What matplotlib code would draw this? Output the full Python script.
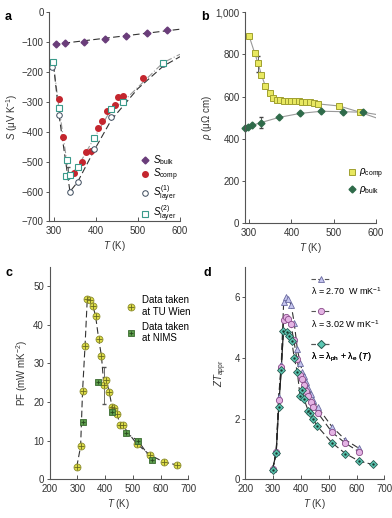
import matplotlib
matplotlib.use("Agg")
import matplotlib.pyplot as plt
from matplotlib.lines import Line2D

plt.rcParams['font.family'] = ['Liberation Sans', 'DejaVu Sans']
plt.rcParams['mathtext.fontset'] = 'custom'
plt.rcParams['mathtext.rm'] = 'Liberation Sans'
plt.rcParams['mathtext.it'] = 'Liberation Sans:italic'
plt.rcParams['mathtext.bf'] = 'Liberation Sans:bold'
plt.rcParams['font.size'] = 7

# ---------------- Panel a data ----------------
bulk_T = [307, 327, 372, 423, 472, 521, 570]
bulk_S = [-105, -102, -98, -89, -79, -70, -60]
bulk_fit_T = [300, 600]
bulk_fit_S = [-107, -56]

comp_T = [314, 322, 348, 367, 377, 388, 406, 416, 427, 446, 454, 465, 513]
comp_S = [-290, -416, -538, -501, -466, -463, -386, -363, -330, -311, -282, -281, -220]

layer1_T = [297, 313, 339, 357, 397, 437, 560]
layer1_S = [-181, -343, -600, -568, -457, -349, -172]
layer1_fit_T = [300, 313, 339, 357, 397, 437, 500, 560, 600]
layer1_fit_S = [-176, -343, -600, -568, -460, -360, -255, -180, -148]

layer2_T = [299, 313, 329, 331, 339, 357, 397, 437, 464, 560]
layer2_S = [-165, -319, -548, -494, -545, -518, -419, -324, -300, -168]
layer2_fit_T = [299, 313, 331, 336, 357, 397, 437, 464, 560, 600]
layer2_fit_S = [-165, -319, -494, -550, -518, -419, -324, -300, -168, -140]

# ---------------- Panel b data ----------------
rcomp_T = [300, 313, 321, 329, 338, 348, 357, 366, 374, 382, 391, 399, 408, 417, 426, 435, 444, 453, 462, 513, 561]
rcomp_R = [886, 806, 758, 703, 651, 616, 595, 586, 582, 580, 580, 580, 579, 578, 577, 575, 573, 570, 566, 556, 527]
rcomp_fit_T = rcomp_T + [600]
rcomp_fit_R = rcomp_R + [500]
rcomp_err_T = [321]
rcomp_err_R = [755]
rcomp_err = [37]

rbulk_T = [290, 296, 307, 327, 371, 421, 471, 521, 570]
rbulk_R = [453, 456, 464, 477, 502, 521, 531, 529, 526]
rbulk_fit_T = rbulk_T + [600]
rbulk_fit_R = rbulk_R + [516]
rbulk_err_T = [327]
rbulk_err_R = [476]
rbulk_err = [26]

# ---------------- Panel c data ----------------
tu_T = [298, 312, 319, 328, 336, 347, 356, 366, 377, 387, 396, 404, 415, 425, 433, 444, 454, 463, 514, 562, 611, 660]
tu_PF = [3.2, 8.5, 22.8, 34.6, 46.7, 46.5, 45.0, 42.3, 36.4, 32.0, 24.3, 25.7, 22.7, 18.8, 18.4, 16.9, 14.0, 14.0, 9.2, 6.3, 4.5, 3.7]
tu_err_T = [396]
tu_err_PF = [24.3]
tu_err_lo = [4.7]
tu_err_hi = [4.8]

nims_T = [322, 373, 425, 474, 520, 569]
nims_PF = [14.9, 25.1, 17.5, 12.1, 9.9, 4.9]

# ---------------- Panel d data ----------------
tri_T = [298, 311, 320, 329, 338, 346, 354, 365, 376, 387, 397, 405, 411, 420, 427, 436, 445, 460, 512, 560, 609]
tri_Z = [0.33, 0.90, 2.72, 3.78, 5.85, 6.00, 5.95, 5.75, 5.15, 4.30, 3.85, 3.55, 3.40, 3.20, 3.00, 2.80, 2.60, 2.38, 1.73, 1.30, 1.02]
circ_T = [298, 311, 320, 329, 338, 346, 355, 364, 374, 386, 397, 405, 411, 420, 427, 436, 445, 460, 512, 560, 609]
circ_Z = [0.33, 0.89, 2.60, 3.70, 5.25, 5.35, 5.30, 5.12, 4.60, 3.95, 3.45, 3.30, 3.10, 2.90, 2.75, 2.55, 2.40, 2.20, 1.55, 1.19, 0.91]
dia_T = [298, 311, 320, 329, 337, 349, 358, 367, 376, 387, 397, 405, 411, 427, 434, 443, 459, 512, 560, 609, 658]
dia_Z = [0.32, 0.87, 2.38, 3.59, 4.90, 4.84, 4.71, 4.56, 4.00, 3.54, 2.74, 2.96, 2.65, 2.24, 2.17, 2.00, 1.75, 1.20, 0.85, 0.60, 0.49]

fig = plt.figure(figsize=(3.92, 5.18), dpi=100)

def style(ax):
    for s in ['top', 'right']:
        ax.spines[s].set_visible(False)
    for s in ['left', 'bottom']:
        ax.spines[s].set_color('#555555')
        ax.spines[s].set_linewidth(0.8)
    ax.tick_params(axis='x', direction='in', length=3, width=0.7, color='#555555', labelsize=7, pad=3.5, labelcolor='#333333')
    ax.tick_params(axis='y', direction='out', length=2.5, width=0.7, color='#555555', labelsize=7, pad=1.5, labelcolor='#333333')

# ---------- a ----------
ax = fig.add_axes([0.1258, 0.5724, 0.3334, 0.4035])
style(ax)
ax.plot(bulk_fit_T, bulk_fit_S, ls=(0, (6, 3)), color='#333333', lw=0.8)
ax.plot(layer2_fit_T, layer2_fit_S, ls=(0, (6, 2, 1, 2)), color='#999999', lw=0.8)
ax.plot(layer1_fit_T, layer1_fit_S, ls=(0, (6, 3)), color='#333333', lw=0.8)
ax.errorbar([334], [-535], yerr=[18], fmt='none', ecolor='#555555', elinewidth=0.6, capsize=1.5)
h1, = ax.plot(bulk_T, bulk_S, 'D', ms=3.5, mfc='#6a3d7a', mec='#6a3d7a', ls='none')
h2, = ax.plot(comp_T, comp_S, 'o', ms=4, mfc='#c4262e', mec='#c4262e', ls='none')
h3, = ax.plot(layer1_T, layer1_S, 'o', ms=4, mfc='white', mec='#3c4a5c', mew=0.7, ls='none')
h4, = ax.plot(layer2_T, layer2_S, 's', ms=4, mfc='white', mec='#3a9a8a', mew=0.8, ls='none')
ax.set_xlim(290, 600)
ax.set_ylim(-700, 0)
ax.set_xticks([300, 400, 500, 600])
ax.set_yticks([0, -100, -200, -300, -400, -500, -600, -700])
ax.set_yticklabels(['0', '\u2212100', '\u2212200', '\u2212300', '\u2212400', '\u2212500', '\u2212600', '\u2212700'])
ax.set_xlabel(r'$T$ (K)', fontsize=7, labelpad=2, color='#333333')
ax.set_ylabel(r'$S$ ($\mathrm{\mu}$V K$^{-1}$)', fontsize=7, labelpad=1, color='#333333')
ax.legend([h1, h2, h3, h4],
          [r'$S_{\mathrm{bulk}}$', r'$S_{\mathrm{comp}}$', r'$S^{(1)}_{\mathrm{layer}}$', r'$S^{(2)}_{\mathrm{layer}}$'],
          loc='upper left', bbox_to_anchor=(0.66, 0.35), frameon=False, borderpad=0,
          handlelength=1.0, handletextpad=0.3, labelspacing=0.0, fontsize=7)
fig.text(0.012, 0.978, 'a', fontsize=9, fontweight='bold', va='top')

# ---------- b ----------
ax = fig.add_axes([0.625, 0.5689, 0.3342, 0.4074])
style(ax)
ax.plot(rcomp_fit_T, rcomp_fit_R, '-', color='#999999', lw=0.8)
ax.plot(rbulk_fit_T, rbulk_fit_R, '-', color='#999999', lw=0.8)
ax.errorbar(rcomp_err_T, rcomp_err_R, yerr=rcomp_err, fmt='none', ecolor='#444444', elinewidth=0.6, capsize=1.5)
ax.errorbar(rbulk_err_T, rbulk_err_R, yerr=rbulk_err, fmt='none', ecolor='#444444', elinewidth=0.6, capsize=1.5)
g1, = ax.plot(rcomp_T, rcomp_R, 's', ms=4, mfc='#e8e860', mec='#a0a030', mew=0.7, ls='none', clip_on=False)
g2, = ax.plot(rbulk_T, rbulk_R, 'D', ms=3.5, mfc='#2f6b4a', mec='#2f6b4a', ls='none', clip_on=False)
ax.set_xlim(290, 600)
ax.set_ylim(0, 1000)
ax.set_xticks([300, 400, 500, 600])
ax.set_yticks([0, 200, 400, 600, 800, 1000])
ax.set_yticklabels(['0', '200', '400', '600', '800', '1,000'])
ax.set_xlabel(r'$T$ (K)', fontsize=7, labelpad=2, color='#333333')
ax.set_ylabel(r'$\rho$ ($\mathrm{\mu\Omega}$ cm)', fontsize=7, labelpad=1, color='#333333')
ax.legend([g1, g2], [r'$\rho_{\mathrm{comp}}$', r'$\rho_{\mathrm{bulk}}$'],
          loc='upper left', bbox_to_anchor=(0.74, 0.29), frameon=False, borderpad=0,
          handlelength=1.0, handletextpad=0.3, labelspacing=0.3, fontsize=7)
fig.text(0.513, 0.978, 'b', fontsize=9, fontweight='bold', va='top')

# ---------- c ----------
ax = fig.add_axes([0.1263, 0.0747, 0.3541, 0.4099])
style(ax)
ax.plot(tu_T, tu_PF, ls=(0, (6, 3)), color='#333333', lw=0.8)
ax.plot(nims_T[3:], nims_PF[3:], ls=(0, (6, 3)), color='#333333', lw=0.8)
ax.errorbar(tu_err_T, tu_err_PF, yerr=[tu_err_lo, tu_err_hi], fmt='none', ecolor='#555555', elinewidth=0.6, capsize=1.5)
c1, = ax.plot(tu_T, tu_PF, 'o', ms=5, mfc='#dcdc48', mec='#8a8a2a', mew=0.6, ls='none')
c1b, = ax.plot(tu_T, tu_PF, '+', ms=4, mec='#6a6a20', mew=0.6, ls='none')
c2, = ax.plot(nims_T, nims_PF, 's', ms=4.5, mfc='#5a9a4a', mec='#3a6a30', mew=0.6, ls='none')
c2b, = ax.plot(nims_T, nims_PF, '+', ms=3.5, mec='#2a4a20', mew=0.6, ls='none')
ax.set_xlim(200, 700)
ax.set_ylim(0, 55)
ax.set_xticks([200, 300, 400, 500, 600, 700])
ax.set_yticks([0, 10, 20, 30, 40, 50])
ax.set_xlabel(r'$T$ (K)', fontsize=7, labelpad=2, color='#333333')
ax.set_ylabel(r'PF (mW mK$^{-2}$)', fontsize=7, labelpad=2, color='#333333')
ax.legend([(c1, c1b), (c2, c2b)], ['Data taken\nat TU Wien', 'Data taken\nat NIMS'],
          loc='upper left', bbox_to_anchor=(0.52, 0.89), frameon=False, borderpad=0,
          handlelength=1.0, handletextpad=0.6, labelspacing=0.5, fontsize=7)
fig.text(0.015, 0.485, 'c', fontsize=9, fontweight='bold', va='top')

# ---------- d ----------
ax = fig.add_axes([0.6258, 0.0747, 0.3546, 0.4099])
style(ax)
ax.plot(tri_T, tri_Z, ls=(0, (6, 3)), color='#333333', lw=0.8)
ax.plot(circ_T, circ_Z, ls=(0, (6, 3)), color='#333333', lw=0.8)
ax.plot(dia_T, dia_Z, ls=(0, (6, 3)), color='#333333', lw=0.8)
ax.plot(dia_T[:5], dia_Z[:5], '-', color='#222222', lw=0.9)
ax.plot(tri_T, tri_Z, '^', ms=4.5, mfc='#c4c4ee', mec='#6a6aa0', mew=0.6, ls='none')
ax.plot(circ_T, circ_Z, 'o', ms=4.5, mfc='#e4b4e4', mec='#8a4a8a', mew=0.6, ls='none')
ax.plot(dia_T, dia_Z, 'D', ms=4, mfc='#5cc8b4', mec='#2a5a50', mew=0.6, ls='none')
ax.plot(dia_T, dia_Z, '.', ms=1.5, color='#1a3a30', ls='none')
ax.set_xlim(200, 700)
ax.set_ylim(0, 7)
ax.set_xticks([200, 300, 400, 500, 600, 700])
ax.set_yticks([0, 2, 4, 6])
ax.set_xlabel(r'$T$ (K)', fontsize=7, labelpad=2, color='#333333')
ax.set_ylabel(r'$ZT_{\mathrm{appr}}$', fontsize=7, labelpad=4, color='#333333')

blank = Line2D([], [], ls='none')
hd1 = Line2D([], [], ls=(0, (4, 2)), color='#555555', lw=0.8, marker='^', ms=4.5, mfc='#c4c4ee', mec='#6a6aa0', mew=0.6)
hd2 = Line2D([], [], ls=(0, (4, 2)), color='#555555', lw=0.8, marker='o', ms=4.5, mfc='#e4b4e4', mec='#8a4a8a', mew=0.6)
hd3 = Line2D([], [], ls=(0, (4, 2)), color='#555555', lw=0.8, marker='D', ms=4, mfc='#5cc8b4', mec='#2a5a50', mew=0.6)
labels_d = ['\u03bb = 2.70  W mK$^{-1}$', '\u03bb = 3.02 W mK$^{-1}$',
            '\u03bb = \u03bb$_{\\mathrm{ph}}$ + \u03bb$_{\\mathrm{e}}$ ($T$)']
anchors_d = [0.985, 0.83, 0.675]
for hh, lab, yy in zip([hd1, hd2, hd3], labels_d, anchors_d):
    lg = ax.legend([hh, blank], ['', lab], loc='upper left', bbox_to_anchor=(0.44, yy),
                   frameon=False, borderpad=0, handlelength=2.2, handletextpad=-2.2,
                   labelspacing=0.15, fontsize=6.5)
    ax.add_artist(lg)
fig.text(0.518, 0.485, 'd', fontsize=9, fontweight='bold', va='top')

fig.savefig('out.png', dpi=100)
